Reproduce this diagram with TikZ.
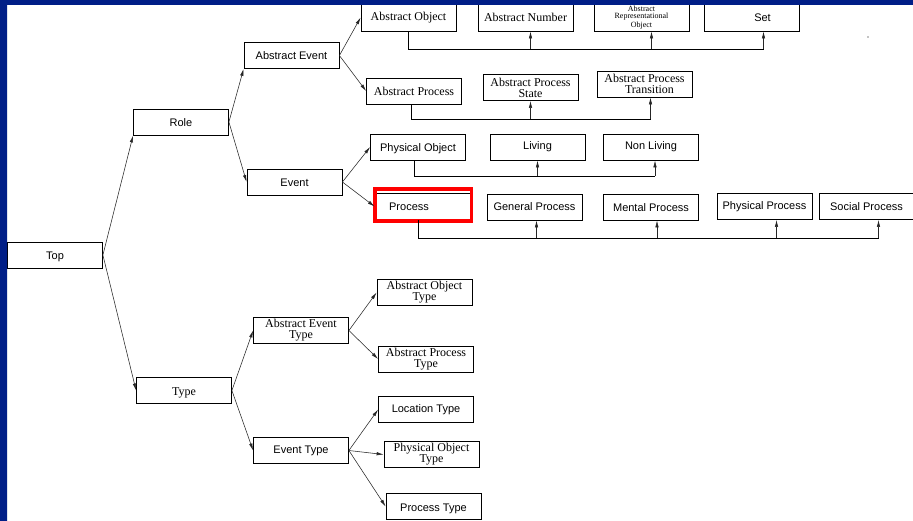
\documentclass[tikz,border=0pt]{standalone}
\usepackage{fontspec}
\setmainfont{Liberation Serif}
\setsansfont{Liberation Sans}
\usetikzlibrary{arrows.meta}
\definecolor{slidedark}{RGB}{0,30,135}
\definecolor{slidelight}{RGB}{0,52,205}
\tikzset{
	box/.style={draw, line width=0.8pt, minimum width=95pt, minimum height=26pt, inner sep=1pt, align=center, font=\sffamily\fontsize{11}{10}\selectfont},
	lowtext/.style={text height=10pt, text depth=0.5pt},
	sbox/.style={box, font=\rmfamily\fontsize{12}{11}\selectfont},
	link/.style={-{Latex[length=7pt,width=3.4pt]}, line width=0.55pt, draw=black!85},
	bus/.style={line width=0.7pt},
	hl/.style={draw=red, line width=3.3pt},
}

\begin{document}
\begin{tikzpicture}[x=1pt, y=-1pt]
			\useasboundingbox (0,0) rectangle (913,520);
			\fill[white] (0,0) rectangle (913,520);
			% left tree
			\node[box, lowtext] (top) at (55,255) {Top};
			\node[box, lowtext] (role) at (181,122) {Role};
			\node[box] (absevent) at (291.5,55.5) {Abstract Event};
			\node[box, lowtext] (event) at (294.5,182) {Event};
			\node[sbox, lowtext] (type) at (184,390.5) {Type};
			\node[sbox] (abseventtype) at (301,330.5) {Abstract Event\\Type};
			\node[box] (eventtype) at (301,450.5) {Event Type};
			\node[sbox] (absobjtype) at (424.5,292.5) {Abstract Object\\Type};
			\node[sbox] (absproctype) at (426,359) {Abstract Process\\Type};
			\node[box] (loctype) at (426,409.5) {Location Type};
			\node[sbox] (physobjtype) at (431.5,454.5) {Physical Object\\Type};
			\node[box, lowtext] (proctype) at (433.5,506.5) {Process Type};
			% abstract rows
			\node[sbox, minimum height=27pt] (absobj) at (408.5,17.5) {Abstract Object};
			\node[sbox, minimum height=27pt] (absnum) at (525.5,17.5) {Abstract Number};
			\node[sbox, minimum height=27pt, font=\rmfamily\fontsize{8}{7}\selectfont] (absrep) at (641.5,17.5) {Abstract\\Representational\\Object};
			\node[box, minimum height=27pt] (set) at (751.5,17.5) {\hspace*{22pt}Set};
			\node[sbox, lowtext] (absproc) at (414,91) {Abstract Process};
			\node[sbox] (absprocst) at (530.5,87.5) {Abstract Process\\State};
			\node[sbox] (absproctr) at (644.5,84) {Abstract Process\\\hspace*{10pt}Transition};
			% physical rows
			\node[box, lowtext] (physobj) at (418,147) {Physical Object};
			\node[box] (living) at (537.5,147) {Living};
			\node[box] (nonliving) at (651,147) {Non Living};
			\node[box] (process) at (422.5,206.5) {Process\hspace*{27pt}};
			\node[box] (genproc) at (534.5,207) {General Process};
			\node[box, lowtext] (mentproc) at (651,207) {Mental Process};
			\node[box] (physproc) at (764.5,206.5) {Physical Process};
			\node[box] (socproc) at (866.5,206.5) {Social Process};
			\draw[hl] (375,189) rectangle (471.5,221);

			\draw[link] (top.east) -- (role.south west);
			\draw[link] (role.east) -- (absevent.south west);
			\foreach \a/\b in {top/type, role/event, absevent/absobj, absevent/absproc, event/physobj, event/process, type/abseventtype, type/eventtype, abseventtype/absobjtype, abseventtype/absproctype, eventtype/loctype, eventtype/physobjtype, eventtype/proctype}
				\draw[link] (\a.east) -- (\b.west);

			% buses
			\coordinate (b1) at (0,49);
			\coordinate (b2) at (0,119);
			\coordinate (b3) at (0,176);
			\coordinate (b4) at (0,238);
			\foreach \n/\dx in {absobj/0, absproc/-3, physobj/-4, process/-4}
				\coordinate (\n-out) at ([xshift=\dx]\n.south);
			\foreach \n/\dx in {absnum/5, absrep/10, set/12, absprocst/0, absproctr/6, living/0, nonliving/4, genproc/2, mentproc/6, physproc/12, socproc/12}
				\coordinate (\n-in) at ([xshift=\dx]\n.south);
			\draw[bus] (absobj-out) |- (set-in |- b1);
			\draw[bus] (absproc-out) |- (absproctr-in |- b2);
			\draw[bus] (physobj-out) |- (nonliving-in |- b3);
			\draw[bus] (process-out) |- (socproc-in |- b4);
			\foreach \n/\b in {absnum/b1, absrep/b1, set/b1, absprocst/b2, absproctr/b2, living/b3, nonliving/b3, genproc/b4, mentproc/b4, physproc/b4, socproc/b4}
				\draw[link] (\n-in |- \b) -- (\n-in);

			\fill (868,37) circle (0.7);
			% slide frame
			\fill[slidedark] (0,0) rectangle (913,5);
			\shade[top color=slidedark, middle color=slidelight, bottom color=slidedark] (0,0) rectangle (7,520);
		\end{tikzpicture}
\end{document}
